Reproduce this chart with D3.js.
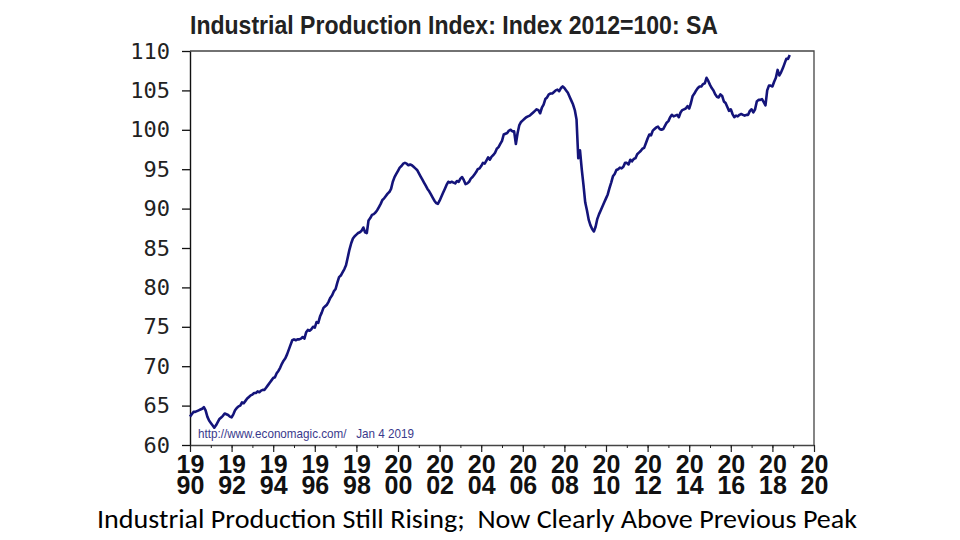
<!DOCTYPE html>
<html>
<head>
<meta charset="utf-8">
<script src="https://cdn.jsdelivr.net/npm/d3@7"></script>
<style>
  body { margin: 0; background: #fff; }
  svg { display: block; }
</style>
</head>
<body>
<script>
// page size
var w = 960;
var h = 540;

// monthly index values, Jan 1990 .. Nov 2018
const startYear = 1990;
const ip1990 = [63.6, 63.9, 64.2, 64.2, 64.3, 64.4, 64.5, 64.6, 64.8, 64.4, 63.6, 63.1];
const ip1991 = [62.8, 62.5, 62.2, 62.5, 62.9, 63.3, 63.5, 63.7, 64.0, 63.9, 63.8, 63.6];
const ip1992 = [63.5, 63.9, 64.4, 64.7, 64.9, 65.0, 65.4, 65.3, 65.6, 65.9, 66.1, 66.3];
const ip1993 = [66.4, 66.6, 66.6, 66.8, 66.7, 66.9, 67.0, 67.0, 67.3, 67.6, 67.9, 68.2];
const ip1994 = [68.5, 68.6, 69.1, 69.4, 69.8, 70.3, 70.7, 71.0, 71.5, 72.1, 72.7, 73.3];
const ip1995 = [73.4, 73.3, 73.4, 73.4, 73.5, 73.7, 73.5, 74.3, 74.6, 74.5, 74.7, 75.0];
const ip1996 = [74.9, 75.6, 75.5, 76.3, 76.8, 77.4, 77.6, 77.8, 78.2, 78.7, 79.0, 79.5];
const ip1997 = [79.8, 80.6, 81.3, 81.5, 81.9, 82.3, 82.8, 83.8, 84.8, 85.6, 86.2, 86.5];
const ip1998 = [86.7, 86.9, 87.0, 87.2, 87.6, 87.0, 86.9, 88.5, 88.8, 89.2, 89.3, 89.5];
const ip1999 = [89.8, 90.2, 90.6, 91.1, 91.3, 91.6, 91.9, 92.1, 92.5, 93.4, 94.0, 94.4];
const ip2000 = [94.8, 95.2, 95.4, 95.7, 95.8, 95.7, 95.5, 95.6, 95.5, 95.3, 95.1, 94.9];
const ip2001 = [94.5, 94.1, 93.7, 93.3, 92.9, 92.5, 92.2, 91.8, 91.4, 91.0, 90.7, 90.6];
const ip2002 = [91.0, 91.5, 92.0, 92.5, 93.0, 93.4, 93.3, 93.4, 93.3, 93.2, 93.5, 93.4];
const ip2003 = [93.8, 94.0, 93.6, 93.1, 93.2, 93.4, 93.8, 94.0, 94.3, 94.6, 95.0, 95.1];
const ip2004 = [95.4, 95.8, 95.7, 96.1, 96.5, 96.2, 96.6, 96.8, 97.1, 97.6, 97.8, 98.2];
const ip2005 = [98.6, 99.4, 99.5, 99.6, 99.9, 100.0, 99.8, 99.8, 98.2, 99.6, 100.6, 101.0];
const ip2006 = [101.2, 101.4, 101.6, 101.7, 101.8, 102.0, 102.2, 102.4, 102.6, 102.5, 102.1, 102.8];
const ip2007 = [103.2, 103.9, 104.1, 104.5, 104.6, 104.6, 104.8, 105.0, 105.1, 104.9, 105.3, 105.5];
const ip2008 = [105.3, 105.0, 104.7, 104.2, 103.7, 103.2, 102.5, 101.3, 96.4, 97.4, 95.0, 93.0];
const ip2009 = [90.8, 89.8, 88.6, 87.9, 87.4, 87.1, 87.7, 88.7, 89.3, 89.8, 90.3, 90.8];
const ip2010 = [91.3, 91.8, 92.6, 93.3, 94.1, 94.4, 94.9, 95.0, 95.2, 95.1, 95.3, 95.8];
const ip2011 = [95.8, 95.6, 96.2, 96.0, 96.3, 96.4, 96.9, 97.1, 97.3, 97.6, 97.7, 98.3];
const ip2012 = [98.9, 99.4, 99.3, 99.9, 100.1, 100.3, 100.4, 100.1, 100.0, 100.1, 100.5, 100.9];
const ip2013 = [101.1, 101.6, 101.9, 101.7, 101.8, 101.9, 101.6, 102.2, 102.5, 102.6, 102.7, 103.0];
const ip2014 = [102.7, 103.4, 104.3, 104.6, 105.0, 105.3, 105.5, 105.5, 105.8, 105.9, 106.6, 106.2];
const ip2015 = [105.7, 105.3, 105.0, 104.5, 104.2, 104.1, 104.5, 104.3, 103.6, 103.4, 102.9, 102.4];
const ip2016 = [102.6, 102.0, 101.6, 101.8, 101.7, 101.9, 102.0, 101.9, 101.8, 101.9, 101.9, 102.4];
const ip2017 = [102.6, 102.2, 102.6, 103.6, 103.8, 103.8, 103.9, 103.5, 103.1, 105.0, 105.6, 105.6];
const ip2018 = [105.5, 106.1, 106.6, 107.6, 106.9, 107.3, 107.8, 108.4, 109.0, 109.0, 109.5];

const years = [ip1990, ip1991, ip1992, ip1993, ip1994, ip1995, ip1996, ip1997, ip1998, ip1999,
               ip2000, ip2001, ip2002, ip2003, ip2004, ip2005, ip2006, ip2007, ip2008, ip2009,
               ip2010, ip2011, ip2012, ip2013, ip2014, ip2015, ip2016, ip2017, ip2018];

// tick values / labels
const yTicks = [60, 65, 70, 75, 80, 85, 90, 95, 100, 105, 110];
const xLabelYears = [1990, 1992, 1994, 1996, 1998, 2000, 2002, 2004, 2006, 2008, 2010, 2012, 2014, 2016, 2018, 2020];
const xMinorYears = d3.range(1990, 2021);

const titleText = "Industrial Production Index: Index 2012=100: SA";
const sourceText = "http://www.economagic.com/   Jan 4 2019";
const captionText = "Industrial Production Still Rising;  Now Clearly Above Previous Peak";

// flatten into {t, v}
const data = [];
years.forEach((arr, yi) => {
    arr.forEach((v, m) => data.push({ t: startYear + yi + m / 12, v: v }));
});

// plot box
const plotL = 190, plotR = 814, plotT = 51, plotB = 445;

const xScale = d3.scaleLinear().domain([1990, 2020]).range([plotL, plotR]);
const yScale = d3.scaleLinear().domain([60, 110]).range([plotB, plotT]);

const svg = d3.select("body")
    .append("svg")
    .attr("width", w)
    .attr("height", h);

// title
svg.append("text")
    .attr("x", plotL)
    .attr("y", 34)
    .attr("textLength", 528)
    .attr("lengthAdjust", "spacingAndGlyphs")
    .style("font-family", "'Liberation Sans Narrow', 'Liberation Sans', Arial, sans-serif")
    .style("font-weight", "bold")
    .style("font-size", "26px")
    .style("fill", "#222")
    .text(titleText);

// frame (top and right)
svg.append("path")
    .attr("d", `M${plotL},${plotT}H${plotR}V${plotB}`)
    .attr("fill", "none")
    .attr("stroke", "#444")
    .attr("stroke-width", 1.3);

// y axis
const yAxis = svg.append("g")
    .attr("transform", `translate(${plotL},0)`)
    .call(d3.axisLeft(yScale).tickValues(yTicks).tickSize(8).tickPadding(12).tickSizeOuter(0));
yAxis.select(".domain").attr("stroke", "#111").attr("stroke-width", 1.4);
yAxis.selectAll(".tick line").attr("stroke", "#111").attr("stroke-width", 1.3);
yAxis.selectAll(".tick text")
    .style("font-family", "'DejaVu Sans Mono', 'Liberation Mono', monospace")
    .style("font-size", "22px")
    .style("fill", "#222");

// x axis: minor ticks every year
const xAxis = svg.append("g")
    .attr("transform", `translate(0,${plotB})`)
    .call(d3.axisBottom(xScale).tickValues(xMinorYears).tickSize(3).tickFormat("").tickSizeOuter(0));
xAxis.select(".domain").attr("stroke", "#444").attr("stroke-width", 1.3);
xAxis.selectAll(".tick line").attr("stroke", "#222");

// major ticks with two-line labels
const major = svg.append("g")
    .attr("transform", `translate(0,${plotB})`)
    .call(d3.axisBottom(xScale).tickValues(xLabelYears).tickSize(7).tickFormat("").tickSizeOuter(0));
major.select(".domain").remove();
major.selectAll(".tick line").attr("stroke", "#222").attr("stroke-width", 1.2);

const xLabels = major.selectAll(".tick").append("text")
    .attr("text-anchor", "middle")
    .style("font-family", "'Liberation Sans Narrow', 'Liberation Sans', Arial, sans-serif")
    .style("font-weight", "bold")
    .style("font-size", "25px")
    .style("fill", "#111");
xLabels.append("tspan").attr("x", 0).attr("y", 28).text(d => String(d).slice(0, 2));
xLabels.append("tspan").attr("x", 0).attr("y", 49).text(d => String(d).slice(2));

// source note
svg.append("text")
    .attr("x", 198)
    .attr("y", 438)
    .attr("textLength", 216)
    .attr("lengthAdjust", "spacingAndGlyphs")
    .style("font-family", "'Liberation Sans Narrow', 'Liberation Sans', Arial, sans-serif")
    .style("font-size", "13px")
    .style("fill", "#3a3a8c")
    .style("white-space", "pre")
    .text(sourceText);

// the series line
const line = d3.line()
    .x(d => xScale(d.t))
    .y(d => yScale(d.v));

svg.append("path")
    .datum(data)
    .attr("d", line)
    .attr("fill", "none")
    .attr("stroke", "#14147a")
    .attr("stroke-width", 2.6)
    .attr("stroke-linejoin", "round");

// slide caption
svg.append("text")
    .attr("x", 97)
    .attr("y", 528)
    .attr("textLength", 760)
    .attr("lengthAdjust", "spacingAndGlyphs")
    .style("font-family", "Carlito, Lato, 'Open Sans', sans-serif")
    .style("font-size", "26px")
    .style("fill", "#000")
    .style("white-space", "pre")
    .text(captionText);
</script>
</body>
</html>
